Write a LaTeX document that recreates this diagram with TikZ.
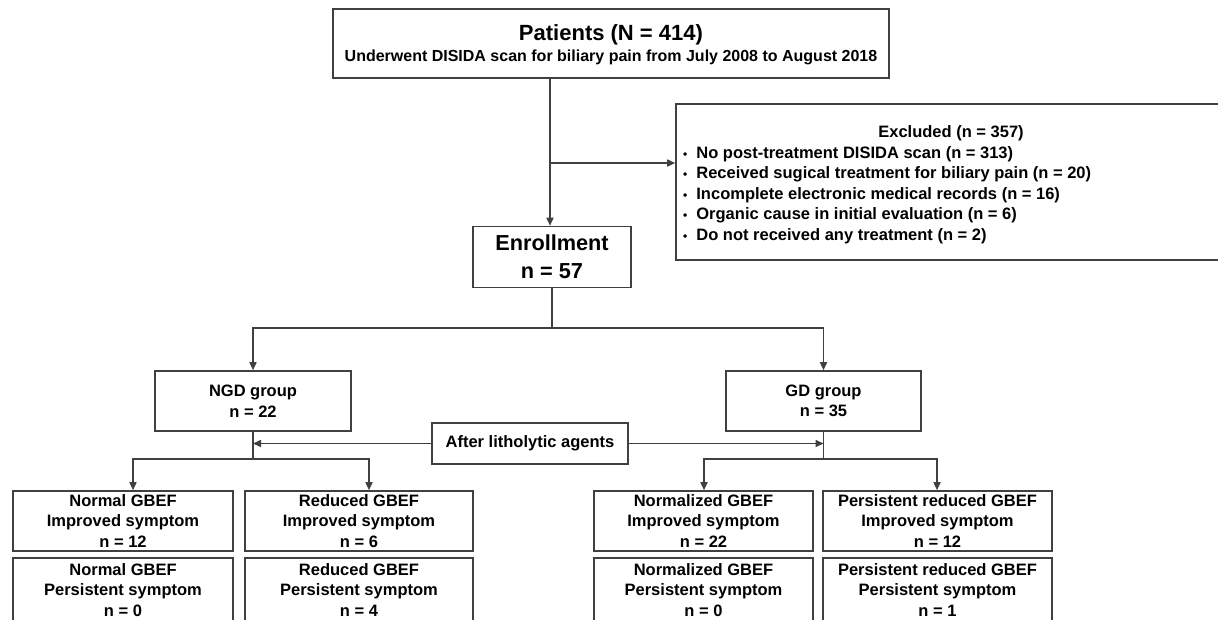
\documentclass[tikz,border=0pt]{standalone}
\usepackage{fontspec}
\setmainfont{Liberation Sans}
\usetikzlibrary{arrows.meta}
\definecolor{ln}{RGB}{64,64,64}
\begin{document}
\begin{tikzpicture}[x=1pt,y=-1pt,
  bx/.style={draw=ln, line width=1.6pt, align=center, inner sep=0pt,
    font=\fontsize{16.5}{20.5}\selectfont\bfseries},
  txt/.style={inner sep=0pt, align=left, font=\fontsize{16.5}{20.5}\selectfont\bfseries},
  conn/.style={draw=ln, line width=1.6pt},
  arr/.style={conn, -{Triangle[length=8pt,width=7pt]}}]
\useasboundingbox (0,0) rectangle (1218,619);
\clip (0,0) rectangle (1218,619);
\fill[white] (0,0) rectangle (1218,619);

% top
\node[bx, minimum width=556, minimum height=69] (top) at (611,43.5) {};
\node[txt, font=\fontsize{22}{22}\selectfont\bfseries] (topT) at (611,34.5) {Patients (N = 414)};
\node[txt, font=\fontsize{16}{16}\selectfont\bfseries] (topS) at (611,57.5)
  {Underwent DISIDA scan for biliary pain from July 2008 to August 2018};

% excluded
\node[bx, minimum width=550, minimum height=156] (excl) at (951,182) {};
\node[txt] (exclT) at (951,133) {Excluded (n = 357)};
\node[txt, anchor=north west] (exclL) at (683,143.5)
  {\begin{tabular}{@{}l@{\hspace{9pt}}l@{}}
   {\fontsize{12}{12}\selectfont\textbullet} & No post-treatment DISIDA scan (n = 313)\\
   {\fontsize{12}{12}\selectfont\textbullet} & Received sugical treatment for biliary pain (n = 20)\\
   {\fontsize{12}{12}\selectfont\textbullet} & Incomplete electronic medical records (n = 16)\\
   {\fontsize{12}{12}\selectfont\textbullet} & Organic cause in initial evaluation (n = 6)\\
   {\fontsize{12}{12}\selectfont\textbullet} & Do not received any treatment (n = 2)
   \end{tabular}};

% enrollment
\node[bx, minimum width=158, minimum height=61,
  font=\fontsize{21.7}{28}\selectfont\bfseries] (enr) at (552,257)
  {Enrollment\\n = 57};
\path (552,255.5) coordinate (enrc);

% groups
\node[bx, minimum width=196, minimum height=60] (ngd) at (253,401) {NGD group\\n = 22};
\node[bx, minimum width=195, minimum height=60] (gd) at (823.5,401) {GD group\\n = 35};
\node[bx, minimum width=196, minimum height=41] (after) at (530,443.5) {After litholytic agents};

% sub boxes
\node[bx, minimum width=220, minimum height=60] (b1) at (123,521) {Normal GBEF\\Improved symptom\\n = 12};
\node[bx, minimum width=228, minimum height=60] (b2) at (359,521) {Reduced GBEF\\Improved symptom\\n = 6};
\node[bx, minimum width=219, minimum height=60] (b3) at (703.5,521) {Normalized GBEF\\Improved symptom\\n = 22};
\node[bx, minimum width=229, minimum height=60] (b4) at (937.5,521) {Persistent reduced GBEF\\Improved symptom\\n = 12};
\node[bx, minimum width=220, minimum height=64] (c1) at (123,590) {Normal GBEF\\Persistent symptom\\n = 0};
\node[bx, minimum width=228, minimum height=64] (c2) at (359,590) {Reduced GBEF\\Persistent symptom\\n = 4};
\node[bx, minimum width=219, minimum height=64] (c3) at (703.5,590) {Normalized GBEF\\Persistent symptom\\n = 0};
\node[bx, minimum width=229, minimum height=64] (c4) at (937.5,590) {Persistent reduced GBEF\\Persistent symptom\\n = 1};

% connectors
\coordinate (tj) at (550,78);
\coordinate (ej) at (550,163);
\draw[arr] (tj |- top.south) -- (tj |- enr.north);
\draw[arr] (ej) -- (ej -| excl.west);

\coordinate (sp) at (552,328);
\draw[conn] (enr.south) -- (sp);
\draw[arr] (sp) -| (ngd.north);
\draw[arr] (sp) -| (gd.north);

\draw[arr] (after.west) -- (after.west -| ngd.south);
\draw[arr] (after.east) -- (after.east -| gd.south);

\coordinate (n1) at (133,459);
\coordinate (n2) at (369,459);
\draw[arr] (ngd.south) |- (n1) -- (n1 |- b1.north);
\draw[arr] (ngd.south |- n2) -- (n2) -- (n2 |- b2.north);
\coordinate (g1) at (704,459);
\coordinate (g2) at (937,459);
\draw[arr] (gd.south) |- (g1) -- (g1 |- b3.north);
\draw[arr] (gd.south |- g2) -- (g2) -- (g2 |- b4.north);
\end{tikzpicture}
\end{document}
